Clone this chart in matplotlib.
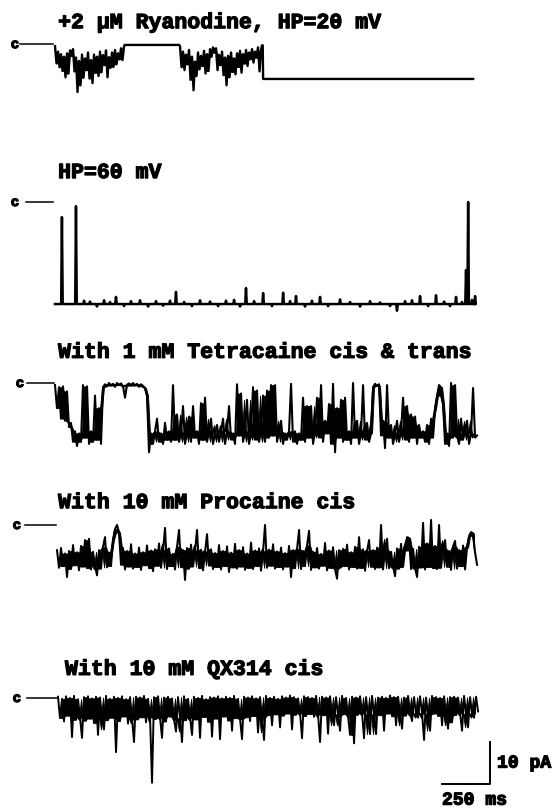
import numpy as np
import matplotlib
matplotlib.use("Agg")
import matplotlib.pyplot as plt
import matplotlib.patheffects as pe
from numpy.lib.stride_tricks import sliding_window_view

# current in pA (closed level = 0, openings downward), time in ms

# +2 uM ryanodine, HP=20 mV : two bursts, then the ryanodine-modified state
ry_burst1_t0, ry_dt = 0.0, 7.8
ry_burst1 = [-0.5, -4.6, -1.8, -5.5, -2.4, -6.4, -3.0, -7.9, -2.2, -7.0,
             -1.5, -2.8, -1.2, -6.5, -3.2, -11.4, -4.0, -9.8, -2.5, -8.0,
             -3.4, -6.2, -2.0, -8.2, -3.8, -9.3, -2.5, -6.8, -3.0, -7.6,
             -1.8, -6.7, -2.6, -5.0, -1.5, -7.9, -3.1, -5.6, -2.0, -5.4,
             -1.4, -4.8, -2.2, -3.6, -1.0, -3.8, -0.6]
ry_burst2_t0 = 650.0
ry_burst2 = [-0.5, -5.5, -1.8, -6.2, -2.5, -4.8, -1.4, -8.5, -3.0, -11.0,
             -4.2, -7.6, -2.0, -6.0, -2.8, -5.2, -1.6, -7.0, -2.4, -6.4,
             -1.2, -3.0, -0.8, -2.0, -1.0, -6.2, -2.6, -5.0, -1.8, -7.4,
             -3.2, -9.8, -2.8, -7.9, -2.0, -6.6, -3.4, -7.2, -2.2, -5.4,
             -1.6, -6.8, -2.4, -4.6, -1.4, -5.2, -2.0, -3.6, -1.2, -4.4,
             -1.8, -3.2, -0.8, -6.5, -1.5]
ry_sub_level = -8.3
ry_sub_start, ry_end = 1082.0, 2174.0

# HP=60 mV : modified level with a few brief closures
hp60_base = -24.3
hp60_end = 2184.0
hp60_evt_t = [36, 109, 151, 182, 218, 255, 286, 317, 359, 395, 442, 484, 525,
              562, 598, 629, 671, 712, 754, 806, 848, 889, 931, 962, 993, 1035,
              1082, 1128, 1186, 1222, 1253, 1300, 1336, 1378, 1420, 1482, 1534,
              1586, 1638, 1690, 1742, 1778, 1820, 1856, 1898, 1940, 1981, 2023,
              2054, 2085, 2116, 2137, 2148, 2168, 2184]
hp60_evt_i = [-3.6, -1.0, -23.5, -23.7, -24.9, -23.4, -23.8, -22.6, -24.8, -23.6,
              -23.4, -24.9, -23.6, -24.7, -23.5, -21.4, -23.8, -24.8, -23.4, -23.7,
              -24.8, -23.5, -23.3, -24.9, -20.5, -23.6, -21.7, -24.8, -21.6, -23.6,
              -22.4, -24.9, -23.5, -22.6, -24.8, -23.2, -23.8, -24.9, -23.6, -23.9,
              -24.8, -25.9, -23.6, -23.4, -22.4, -24.8, -22.2, -23.7, -24.8, -22.6,
              -23.8, -16.2, 0.0, -23.3, -22.4]

# drug traces, digitised every 10.4 ms
samp_dt = 10.4
tet_t0 = 0.0
tet_i = [-0.5, -6, -1, -8.5, -0.8, -9, -2, -10.5, -9.5, -14,
         -11.5, -15, -12, -14, -0.5, -13, -0.8, -14.5, -11.5, -14,
         -3, -13.5, -6, -14.5, -1, -0.3, -0.8, 0, -0.6, -0.2,
         -0.9, 0, -0.5, -0.1, -0.8, -3.5, -0.4, -0.1, -0.7, 0,
         -0.6, -0.2, -0.9, -0.3, -0.7, -1.2, -3, -16.5, -12, -14.5,
         -11.5, -8.5, -14, -12, -14.5, -9.5, -13.5, -11.5, -14, -0.5,
         -13.5, -7.5, -14, -12, -5.5, -14.5, -11.5, -8, -14, -5.5,
         -13, -11.5, -14.5, -4.8, -13.5, -3.5, -14, -11.5, -8.5, -14.5,
         -12, -10, -14, -11.5, -8.5, -14.5, -11.5, -5.5, -13.5, -12,
         -14.5, -0.3, -12.5, -2.5, -14, -11.5, -4, -14.5, -12, -1,
         -13.5, -1.8, -14, -11.5, -3, -14, -1.8, -13, -0.5, -12.5,
         -0.5, -14, -11.5, -9, -14.5, -12, -13.5, -11.5, -0.2, -14,
         -11.5, -14.5, -12, -13.5, -3.5, -14, -5.5, -13, -5.5, -14.5,
         -11.5, -3.5, -13, -0.5, -14, -9, -12, -5, -14.5, -0.2,
         -16.5, -6, -13, -4, -14, -3.5, -13.5, -11.5, -14.5, 0,
         -13, -9, -14.5, -12, -0.5, -13.5, -9.5, -14, -12, -1,
         -0.2, -0.7, -0.3, -12.5, -9, -15.5, -0.5, -13, -10, -14.5,
         -12, -9, -14, -11.5, -3.5, -13.5, -5.5, -14, -7.5, -13,
         -8, -14.5, -10, -13, -11.5, -14, -10, -14.5, -8.5, -13,
         -6, -3, -0.5, -1, -5, -14.5, -12, -15, 0, -13,
         -0.5, -12.5, -14.5, -8.5, -13.5, -11.5, -9, -14.5, -12, -1.2,
         -13, -12.5]
pro_t0 = 10.4
pro_i = [-6.0, -10.2, -5.5, -9.8, -6.8, -12.4, -6.2, -10.5, -4.8, -9.6,
         -6.5, -10.8, -5.0, -9.9, -3.6, -10.3, -3.3, -10.6, -6.4, -9.7,
         -12.0, -6.0, -10.4, -5.2, -2.9, -10.1, -6.6, -9.8, -3.5, -1.0,
         0.0, -1.8, -9.5, -5.5, -10.6, -6.2, -9.9, -4.6, -10.4, -6.8,
         -10.0, -5.4, -10.7, -6.5, -9.6, -4.9, -10.3, -6.1, -11.0, -5.8,
         -9.7, -4.4, -10.2, -6.3, -0.7, -10.5, -5.6, -9.8, -6.9, -10.6,
         -5.2, -1.2, -10.1, -6.0, -13.1, -5.5, -10.4, -4.7, -9.9, -6.3,
         -1.2, -10.3, -5.9, -10.8, -6.4, -2.2, -9.7, -5.8, -10.5, -6.7,
         -10.0, -4.8, -10.6, -6.2, -9.8, -5.1, -11.2, -6.6, -10.1, -4.5,
         -10.4, -6.0, -9.9, -5.3, -10.7, -6.8, -10.2, -4.2, -10.5, -6.1,
         -9.8, -5.6, -10.9, -6.4, 0.0, -10.2, -5.9, -9.7, -4.6, -10.4,
         -6.3, -10.0, -5.4, -10.6, -6.7, -9.9, -5.0, -12.4, -6.0, -10.3,
         -5.7, -1.2, -10.5, -6.2, -9.8, -4.9, -1.4, -10.7, -6.4, -10.1,
         -5.5, -10.4, -6.9, -9.7, -4.3, -10.8, -6.1, -10.2, -5.3, -10.5,
         -12.8, -6.0, -10.1, -5.7, -9.8, -4.7, -10.6, -6.5, -10.0, -5.2,
         -10.4, -2.9, -10.2, -5.8, -10.9, -6.3, -3.6, -10.0, -6.0, -10.5,
         -5.4, -10.1, 0.0, -10.6, -5.9, -3.3, -10.3, -6.4, -9.9, -12.2,
         -5.6, -10.4, -4.5, -10.0, -6.1, -2.9, -3.1, -10.5, -5.7, -10.2,
         -12.4, -5.2, -10.1, 0.5, -10.6, -4.4, -10.0, 1.2, -10.3, -5.0,
         -10.5, 0.0, -10.2, -5.6, -3.6, -10.0, -6.2, -10.7, -5.1, -3.8,
         -10.4, -6.0, -9.8, -4.9, -10.6, -5.4, -2.6, -1.7, -2.0, -6.5,
         -9.5]
qx_t0 = 15.6
qx_i = [0.3, -4.8, -0.2, -5.6, 0.4, -4.2, 0.0, -9.3, 0.5, -5.2,
        -0.3, -4.6, -9.5, 0.2, -5.4, 0.4, -4.9, -0.1, -6.0, 0.3,
        -8.8, 0.1, -4.5, -7.5, 0.5, -5.3, -0.2, -4.7, 0.3, -12.9,
        0.0, -5.5, 0.4, -4.4, -0.3, -6.1, 0.2, -4.9, -10.5, 0.3,
        -5.1, 0.1, -4.6, 0.5, -5.8, -0.2, -4.3, -20.2, 0.2, -5.0,
        0.4, -4.7, -9.5, 0.1, -5.6, 0.3, -4.4, -0.1, -5.2, -8.0,
        0.2, -4.8, -10.5, 0.4, -5.3, -0.2, -4.6, -8.8, 0.3, -5.1,
        0.0, -9.5, 0.5, -4.5, -0.3, -5.7, 0.2, -9.2, 0.1, -4.9,
        0.4, -9.8, -0.1, -4.4, 0.3, -5.4, 0.0, -7.8, 0.5, -4.8,
        -0.2, -5.0, -9.8, 0.3, -4.6, 0.1, -5.5, 0.4, -4.3, -0.1,
        -8.2, 0.2, -4.7, -10.0, 0.5, -4.1, 0.0, -6.5, 0.3, -3.9,
        -0.2, -7.0, 0.4, -4.2, 0.1, -3.7, 0.6, -7.5, 0.2, -4.0,
        -0.1, -3.6, -9.6, 0.4, -4.3, 0.2, -3.8, 0.0, -4.5, 0.5,
        -3.9, -10.5, 0.3, -4.1, 0.1, -8.5, 0.4, -3.7, -6.5, 0.2,
        -4.2, -7.8, 0.5, -3.8, 0.0, -4.4, -8.8, 0.3, -10.8, 0.1,
        -4.0, 0.4, -3.6, -9.6, 0.2, -4.3, -8.6, 0.5, -3.9, -8.6,
        0.1, -4.1, 0.3, -7.8, 0.0, -3.7, 0.6, -4.4, 0.2, -6.5,
        0.3, -3.8, -7.3, 0.1, -4.2, 0.5, -3.5, -5.5, 0.2, -3.9,
        -4.7, 0.4, -3.6, -10.0, 0.1, -4.0, -7.8, 0.5, -3.7, 0.2,
        -4.3, 0.0, -6.5, 0.4, -3.8, -7.3, 0.2, -5.8, 0.3, -4.1,
        0.1, -3.6, -7.8, 0.5, -4.0, -7.0, 0.2, -3.7, -4.7, 0.3,
        -3.2]

titles = ["+2 \u03bcM Ryanodine, HP=20 mV",
          "HP=60 mV",
          "With 1 mM Tetracaine cis & trans",
          "With 10 mM Procaine cis",
          "With 10 mM QX314 cis"]

# ---- layout (pA / ms on one shared axis) ----
offsets = [-10.5, -48.1, -91.2, -125.0, -166.2]      # closed level of each trace
title_y = [-6.7, -42.4, -85.2, -121.0, -160.7]
title_x = [16, 16, 16, 16, 52]
c_x = [-208, -208, -182, -198, -198]
c_line = [(-182, -10), (-151, -10), (-146, -5), (-156, 5), (-146, 12)]
lws = [1.7, 1.8, 1.5, 1.45, 1.4]


def sampled(t0, dt, vals):
    return t0 + dt * np.arange(len(vals)), np.asarray(vals, dtype=float)


def with_events(t_start, t_end, base, ev_t, ev_i, hw=4.0):
    t, y = [t_start], [base]
    for te, ie in zip(ev_t, ev_i):
        t += [te - hw, te, te + hw]
        y += [base, ie, base]
    t.append(t_end)
    y.append(base)
    return np.array(t, dtype=float), np.array(y, dtype=float)


def noise_band(ax, t, y, off):
    # shade the noise band (2nd to 3rd of every 4 samples) so brief events stay thin
    w = np.sort(sliding_window_view(y, 4), axis=1)
    tc = sliding_window_view(t, 4).mean(axis=1)
    ax.fill_between(tc, off + w[:, 1], off + w[:, 2], color="black", lw=0.6)


# assemble each trace
b1t, b1i = sampled(ry_burst1_t0, ry_dt, ry_burst1)
b2t, b2i = sampled(ry_burst2_t0, ry_dt, ry_burst2)
ry_t = np.concatenate([b1t, [362, 646], b2t, [1076, 1080, ry_sub_start, ry_end]])
ry_y = np.concatenate([b1i, [-0.2, -0.2], b2i, [-0.3, -0.3, ry_sub_level, ry_sub_level]])

hp_t, hp_y = with_events(0.0, hp60_end, hp60_base, hp60_evt_t, hp60_evt_i)
tet_t, tet_y = sampled(tet_t0, samp_dt, tet_i)
pro_t, pro_y = sampled(pro_t0, samp_dt, pro_i)
qx_t, qx_y = sampled(qx_t0, samp_dt, qx_i)

traces = [(ry_t, ry_y), (hp_t, hp_y), (tet_t, tet_y), (pro_t, pro_y), (qx_t, qx_y)]
bands = {0: [(b1t, b1i), (b2t, b2i)], 2: [(tet_t, tet_y)],
         3: [(pro_t, pro_y)], 4: [(qx_t, qx_y)]}

fig = plt.figure(figsize=(5.52, 8.08), dpi=100)
ax = fig.add_axes([0, 0, 1, 1])
ax.set_xlim(-286, 2584)
ax.set_ylim(-192.4, 0)
ax.axis("off")

bold = dict(family="Liberation Mono", weight="bold", color="black")
thick = [pe.withStroke(linewidth=0.9, foreground="black")]

for k, (t, y) in enumerate(traces):
    off = offsets[k]
    for bt, by in bands.get(k, []):
        noise_band(ax, bt, by, off)
    ax.plot(t, off + y, color="black", lw=lws[k])
    ax.plot(c_line[k], [off, off], color="black", lw=1.1)
    ax.text(c_x[k], off, "c", fontsize=10, ha="center", va="center",
            path_effects=thick, **bold)
    ax.text(title_x[k], title_y[k], titles[k], fontsize=15.5, ha="left",
            va="baseline", path_effects=thick, **bold)

# scale bar: 10 pA, 250 ms
sb_x, sb_y = 2262, -186.7
ax.plot([sb_x - 250, sb_x, sb_x], [sb_y, sb_y, sb_y + 10], color="black", lw=1.4)
ax.text(sb_x + 36, sb_y + 5, "10 pA", fontsize=13, ha="left", va="center",
        path_effects=thick, **bold)
ax.text(sb_x - 250, -191.6, "250 ms", fontsize=13, ha="left", va="baseline",
        path_effects=thick, **bold)

fig.savefig("out.png", dpi=100)
